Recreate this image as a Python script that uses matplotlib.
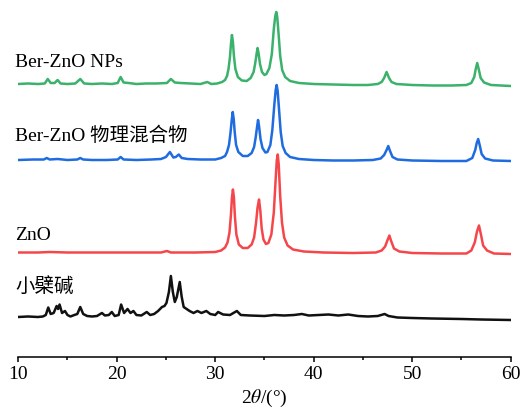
import numpy as np
import matplotlib
matplotlib.use("Agg")
import matplotlib.pyplot as plt
from matplotlib.ticker import MultipleLocator

plt.rcParams["font.family"] = ["Liberation Serif", "Noto Sans CJK SC"]
plt.rcParams["mathtext.fontset"] = "stix"

# XRD patterns: (2theta, intensity above own baseline)
berberine = [
    (10.0, 0), (11.0, 0.5), (12.0, 0), (12.5, 0.5), (12.8, 2), (13.05, 9.5), (13.3, 3),
    (13.6, 4), (13.9, 11), (14.05, 8), (14.2, 12.5), (14.45, 4), (14.75, 6), (15.0, 2),
    (15.3, 0.5), (15.7, 2), (16.0, 3), (16.3, 10), (16.6, 3), (17.0, 1), (17.5, 0.5),
    (18.0, 1), (18.5, 4), (18.8, 1.5), (19.2, 2), (19.5, 5), (19.8, 1), (20.2, 2),
    (20.45, 12.5), (20.75, 4), (21.1, 8), (21.4, 4), (21.7, 6), (22.0, 2), (22.5, 1.5),
    (23.05, 5), (23.4, 2), (23.8, 3), (24.2, 6), (24.6, 10), (24.85, 11), (25.05, 14),
    (25.3, 25), (25.5, 41), (25.7, 25), (25.9, 15), (26.1, 20), (26.4, 35), (26.6, 20),
    (26.8, 10), (27.1, 8), (27.4, 6), (27.8, 4), (28.2, 6), (28.6, 4), (29.1, 6),
    (29.5, 3), (30.0, 2), (30.3, 5), (30.8, 2.5), (31.5, 2), (32.2, 6), (32.6, 2),
    (33.5, 1.5), (35.0, 1), (36.0, 2), (37.0, 1.5), (38.0, 2), (38.8, 3), (39.5, 1.5),
    (40.5, 2), (41.5, 2.5), (42.5, 1.5), (43.5, 2.5), (44.5, 1), (45.5, 0.5), (46.5, 1),
    (47.2, 3), (47.6, 1), (48.5, -0.5), (50.0, -1), (52.0, -1.5), (55.0, -2),
    (57.0, -2.5), (60.0, -3),
]

zno = [
    (10.0, 0), (12.0, 0), (13.2, 0.5), (15.0, 0), (20.0, 0), (24.5, 0), (25.1, 1.5),
    (25.5, 0), (28.0, 0), (30.0, 0.5), (30.6, 2), (31.0, 5), (31.25, 10), (31.45, 20),
    (31.6, 38), (31.7, 55), (31.8, 63), (31.9, 55), (32.0, 36), (32.15, 18),
    (32.4, 8), (32.8, 4.5), (33.3, 4.5), (33.7, 8), (33.95, 15), (34.15, 30), (34.3, 45),
    (34.45, 53), (34.58, 42), (34.72, 24), (34.9, 13), (35.15, 8.5), (35.4, 9.5), (35.7, 18),
    (35.95, 40), (36.12, 70), (36.25, 92), (36.35, 98), (36.45, 88), (36.6, 56),
    (36.78, 30), (37.0, 15), (37.35, 7), (37.9, 3), (39.0, 1), (41.0, 0), (44.0, -0.5),
    (46.3, 0), (46.9, 2), (47.25, 6), (47.48, 12), (47.68, 17), (47.88, 11), (48.15, 4),
    (48.7, 1), (50.0, -0.5), (53.0, -1), (55.5, -1), (56.0, 2), (56.35, 10), (56.58, 21),
    (56.78, 27), (56.98, 18), (57.2, 7), (57.6, 2), (58.3, -1), (60.0, -1.5),
]

mixture = [
    (10.0, 0), (11.5, 0.5), (12.6, 0.5), (12.9, 2), (13.2, 0.5), (14.0, 1), (15.0, 0),
    (16.0, 0.5), (16.3, 2), (16.6, 0.5), (17.5, 0), (19.0, 0), (20.1, 0.5), (20.4, 3),
    (20.7, 0.5), (22.0, 0), (23.5, 0.5), (24.5, 1), (25.0, 3), (25.4, 8), (25.75, 2.5),
    (26.0, 3), (26.3, 5.5), (26.6, 2), (27.2, 1), (28.5, 0.5), (30.0, 0.5), (30.6, 2),
    (31.0, 4), (31.2, 8), (31.4, 15), (31.55, 27), (31.68, 40), (31.78, 48), (31.88, 41),
    (31.98, 28), (32.12, 15), (32.35, 8), (32.8, 4), (33.3, 4), (33.7, 7), (33.95, 13),
    (34.1, 22), (34.25, 33), (34.35, 40), (34.45, 34), (34.6, 21), (34.8, 12), (35.1, 7.5),
    (35.3, 8), (35.6, 15), (35.8, 30), (36.0, 55), (36.14, 70), (36.24, 75), (36.34, 69),
    (36.5, 48), (36.65, 28), (36.85, 14), (37.15, 7), (37.6, 3), (38.5, 1), (40.0, 0),
    (42.0, -0.5), (44.0, -0.5), (46.0, 0), (46.8, 1.5), (47.15, 5), (47.4, 10),
    (47.57, 14), (47.75, 9), (48.0, 3), (48.5, 0.5), (50.0, -0.5), (53.0, -1), (55.5, -1),
    (56.1, 2), (56.4, 10), (56.55, 17), (56.7, 21), (56.85, 15), (57.05, 6), (57.4, 1.5),
    (58.2, -0.5), (60.0, -1),
]

nps = [
    (10.0, 0), (11.0, 0.5), (12.0, 0), (12.7, 0.5), (13.0, 5), (13.3, 1), (13.7, 1),
    (14.0, 4), (14.3, 0.5), (15.0, 0), (15.8, 0.5), (16.3, 5), (16.7, 0.5), (17.5, 0),
    (18.5, 0.5), (19.5, 0), (20.1, 1), (20.4, 7), (20.7, 1.5), (21.2, 1), (22.0, 0),
    (23.0, 0.5), (24.0, 0.5), (25.1, 1), (25.5, 5), (25.9, 1.5), (26.5, 1), (27.5, 0.5),
    (28.5, 0), (29.2, 2), (29.6, 0), (30.2, 0.5), (30.7, 2), (31.0, 4), (31.2, 8),
    (31.35, 15), (31.5, 27), (31.6, 40), (31.7, 49), (31.8, 42), (31.9, 28), (32.05, 15),
    (32.3, 7), (32.7, 3.5), (33.2, 3), (33.6, 6), (33.9, 12), (34.05, 20), (34.2, 30),
    (34.3, 36), (34.4, 31), (34.55, 20), (34.75, 12), (35.0, 9), (35.2, 10), (35.5, 16),
    (35.75, 30), (35.95, 55), (36.1, 68), (36.2, 72), (36.3, 67), (36.45, 48), (36.6, 28),
    (36.8, 14), (37.1, 7), (37.6, 3), (38.5, 1), (40.0, 0), (42.0, -0.5), (44.0, -1),
    (45.5, -1), (46.5, 0), (46.9, 2), (47.15, 6), (47.4, 12), (47.65, 6), (47.9, 2),
    (48.4, 0), (50.0, -1), (52.0, -1.5), (54.0, -1.5), (55.5, -1), (56.0, 1), (56.3, 7),
    (56.45, 15), (56.6, 21), (56.75, 15), (56.95, 6), (57.3, 1.5), (58.0, -1),
    (59.0, -1.5), (60.0, -2),
]

labels = ["小檗碱", "ZnO", "Ber-ZnO 物理混合物", "Ber-ZnO NPs"]
offsets = [40, 104.5, 197, 273]
label_y = [66, 118, 217, 291]
colors = ["#111111", "#f5474b", "#1f6be0", "#3bb26c"]
patterns = [berberine, zno, mixture, nps]

fig = plt.figure(figsize=(5.23, 4.10), dpi=100)
ax = fig.add_axes([18.2 / 523, 52 / 410, 492.5 / 523, 358 / 410])

for pat, off, col, lab, ly in zip(patterns, offsets, colors, labels, label_y):
    xy = np.array(pat)
    ax.plot(xy[:, 0], xy[:, 1] + off, color=col, lw=1.8, solid_joinstyle="round")
    ax.text(9.68, ly, lab, fontsize=14, ha="left", va="baseline")

ax.set_xlim(10, 60)
ax.set_ylim(0, 358)
ax.xaxis.set_major_locator(MultipleLocator(10))
ax.xaxis.set_minor_locator(MultipleLocator(5))
ax.tick_params(axis="x", which="major", direction="out", length=3.6, width=1.1,
               labelsize=14, pad=2)
ax.tick_params(axis="x", which="minor", direction="out", length=2.2, width=1.1)
ax.set_yticks([])
for s in ["left", "top", "right"]:
    ax.spines[s].set_visible(False)
ax.spines["bottom"].set_linewidth(1.1)
ax.set_xlabel(r"2$\theta$/(°)", fontsize=14, labelpad=4)

fig.savefig("out.png", dpi=100)
